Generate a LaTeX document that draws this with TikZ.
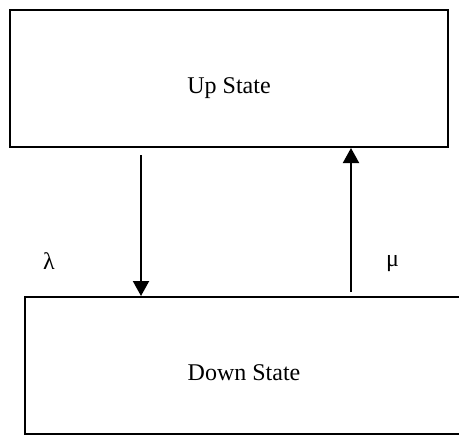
\documentclass[tikz,border=0pt]{standalone}
\usepackage{fontspec}
\setmainfont{Liberation Serif}
\usepackage{tikz}
\usetikzlibrary{arrows.meta}

\begin{document}
\begin{tikzpicture}[x=0.5pt, y=-0.5pt, font=\fontsize{12}{14}\selectfont,
  statebox/.style={rectangle, draw=black, line width=1pt, minimum width=219pt, minimum height=68.5pt, inner sep=0pt, text depth=0pt, text height=15pt},
  rate/.style={inner sep=0pt},
  arr/.style={-{Triangle[length=7.5pt,width=8pt]}, line width=1pt}]
\useasboundingbox (0,0) rectangle (459,435);
\node[statebox] (up) at (229,78.5) {Up State};
\node[statebox] (down) at (244,365.5) {Down State};
\coordinate (fail) at (141,0);
\coordinate (repair) at (351,0);
\node[rate] (lam) at (49,261) {λ};
\node[rate] (mu) at (392.5,264) {μ};
\draw[arr] ([yshift=-3.5pt]fail |- up.south) -- (fail |- down.north);
\draw[arr] ([yshift=2pt]repair |- down.north) -- (repair |- up.south);
\end{tikzpicture}
\end{document}
